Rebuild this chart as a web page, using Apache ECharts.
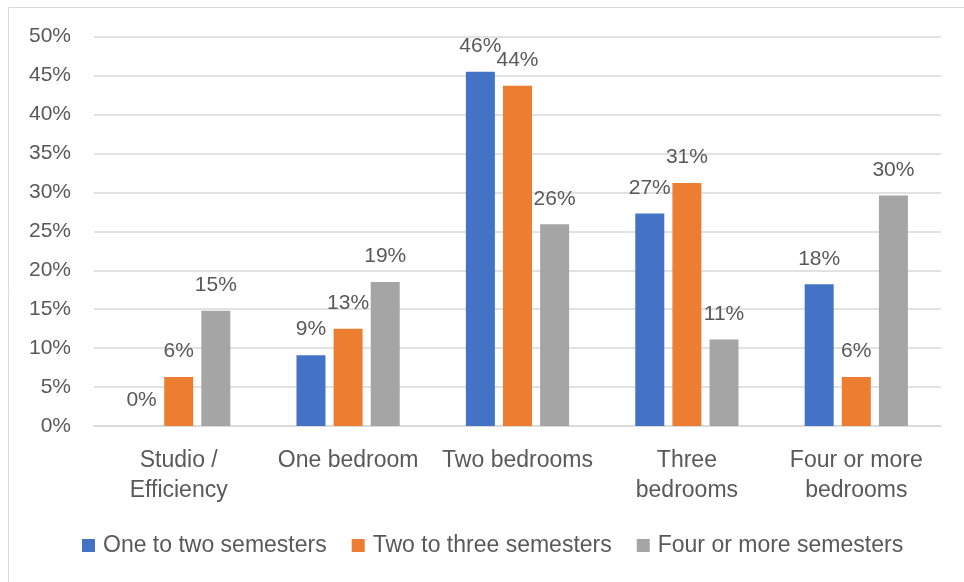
<!DOCTYPE html>
<html>
<head>
<meta charset="utf-8">
<script src="https://cdn.jsdelivr.net/npm/echarts@6/dist/echarts.min.js"></script>
<style>
html,body{margin:0;padding:0;background:#fff;}
#chart{width:964px;height:582px;}
</style>
</head>
<body>
<div id="chart"></div>
<script>
const categories = ["Studio /\nEfficiency", "One bedroom", "Two bedrooms", "Three\nbedrooms", "Four or more\nbedrooms"];
const seriesNames = ["One to two semesters", "Two to three semesters", "Four or more semesters"];
const oneToTwo = [0, 9.1, 45.5, 27.3, 18.2];
const twoToThree = [6.3, 12.5, 43.7, 31.2, 6.3];
const fourOrMore = [14.8, 18.5, 25.9, 11.1, 29.6];
const yTicks = [0, 5, 10, 15, 20, 25, 30, 35, 40, 45, 50];

const colors = ["#4472C4", "#ED7D31", "#A5A5A5"];
const FONT = "Liberation Sans";
const TEXT = "#595959";
const FS_NUM = 21;
const FS_TXT = 23;

const chart = echarts.init(document.getElementById('chart'), null, {renderer: 'canvas'});

function mkSeries(name, data, color) {
  return {
    name: name,
    type: 'bar',
    data: data,
    barWidth: 29,
    barGap: '28%',
    itemStyle: {color: color},
    label: {
      show: true,
      position: 'top',
      distance: 15,
      color: TEXT,
      fontFamily: FONT,
      fontSize: FS_NUM,
      formatter: p => Math.round(p.value) + '%'
    }
  };
}

chart.setOption({
  animation: false,
  textStyle: {fontFamily: FONT},
  graphic: [{
    type: 'rect',
    shape: {x: 8.5, y: 7.5, width: 1200, height: 1200},
    style: {fill: 'none', stroke: '#d9d9d9', lineWidth: 1},
    silent: true
  }],
  grid: {left: 94, right: 23, top: 36.7, bottom: 156, containLabel: false},
  legend: {
    bottom: 20,
    left: 77,
    itemWidth: 13,
    itemHeight: 13,
    itemGap: 25,
    icon: 'rect',
    textStyle: {color: TEXT, fontFamily: FONT, fontSize: FS_TXT, padding: [0, 0, 0, 3]},
    data: seriesNames
  },
  xAxis: {
    type: 'category',
    data: categories,
    axisLine: {show: true, lineStyle: {color: '#d9d9d9', width: 1.5}},
    axisTick: {show: false},
    axisLabel: {
      color: TEXT, fontFamily: FONT, fontSize: FS_TXT,
      margin: 20, lineHeight: 30, interval: 0
    }
  },
  yAxis: {
    type: 'value',
    min: yTicks[0],
    max: yTicks[yTicks.length - 1],
    interval: yTicks[1] - yTicks[0],
    axisLine: {show: false},
    axisTick: {show: false},
    splitLine: {lineStyle: {color: '#d9d9d9', width: 1.5}},
    axisLabel: {
      color: TEXT, fontFamily: FONT, fontSize: FS_NUM, margin: 23,
      formatter: v => v + '%'
    }
  },
  series: [
    mkSeries(seriesNames[0], oneToTwo, colors[0]),
    mkSeries(seriesNames[1], twoToThree, colors[1]),
    mkSeries(seriesNames[2], fourOrMore, colors[2])
  ]
});
</script>
</body>
</html>
